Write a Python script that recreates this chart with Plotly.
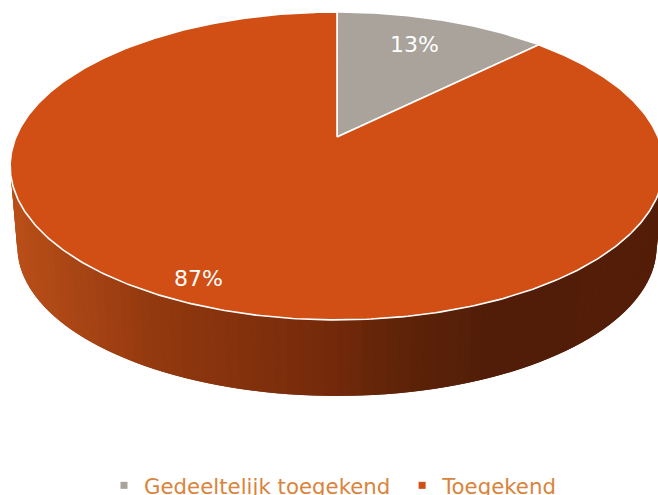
import math
import plotly.graph_objects as go

LABELS = ["Gedeeltelijk toegekend", "Toegekend"]
VALUES = [12.6, 87.4]
TEXTS = ["13%", "87%"]
COLORS = ["#A9A39B", "#D14F15"]
TEXT_POS = [(414, 44), (198, 278)]

# gradient of the side wall, by pixel x
WALL_STOPS = [(19, "#B84E18"), (150, "#93390F"), (330, "#73290A"), (390, "#5F2408"), (480, "#521D08"), (658, "#531D08")]

W, H = 658, 495
CX, APEX_Y = 337, 137
TOP = dict(kx=321, ky=148.5, c=0.188, y0=APEX_Y)
BASE = dict(kx=314, ky=144, c=0.188, y0=218.6)


def project(angle, disc, r=1.0):
    # clockwise from 12 o'clock, with perspective on the disc
    u, v = r * math.sin(angle), r * math.cos(angle)
    d = 1 + disc["c"] * v
    return CX + disc["kx"] * u / d, disc["y0"] - disc["ky"] * v / d


def wall_color(x):
    for (x0, c0), (x1, c1) in zip(WALL_STOPS, WALL_STOPS[1:]):
        if x <= x1:
            t = max(0, (x - x0) / (x1 - x0))
            a = [int(c0[i:i + 2], 16) for i in (1, 3, 5)]
            b = [int(c1[i:i + 2], 16) for i in (1, 3, 5)]
            return "rgb(%d,%d,%d)" % tuple(round(p + (q - p) * t) for p, q in zip(a, b))
    return WALL_STOPS[-1][1]


fig = go.Figure()

total = sum(VALUES)

# side wall: overlapping strips around the front of the big slice
n_strips = 120
a0, a1 = math.radians(70), math.radians(290)
for i in range(n_strips):
    s = a0 + (a1 - a0) * i / n_strips
    e = a0 + (a1 - a0) * (i + 2) / n_strips
    p = [project(s, TOP), project(e, TOP), project(e, BASE), project(s, BASE)]
    mid_x = (p[0][0] + p[1][0] + p[2][0] + p[3][0]) / 4
    fig.add_trace(go.Scatter(
        x=[q[0] for q in p] + [p[0][0]], y=[q[1] for q in p] + [p[0][1]],
        mode="lines", fill="toself", fillcolor=wall_color(mid_x), line=dict(width=0),
        hoverinfo="skip", showlegend=False,
    ))

# top surface
frac = 0
for label, value, color in zip(LABELS, VALUES, COLORS):
    s = 2 * math.pi * frac
    frac += value / total
    e = 2 * math.pi * frac
    steps = max(int(value * 6), 30)
    pts = [project(s + (e - s) * j / steps, TOP) for j in range(steps + 1)]
    apex = project(0, TOP, 0)
    xs = [apex[0]] + [q[0] for q in pts] + [apex[0]]
    ys = [apex[1]] + [q[1] for q in pts] + [apex[1]]
    fig.add_trace(go.Scatter(
        x=xs, y=ys, mode="lines", fill="toself", fillcolor=color,
        line=dict(color="white", width=1.6), name=label, hoverinfo="name", showlegend=False,
    ))

# legend entries, the nbsp pushes the second entry out to its place
for label, color in zip(LABELS, COLORS):
    fig.add_trace(go.Scatter(
        x=[None], y=[None], mode="markers", name=label + "\u00a0",
        marker=dict(symbol="square", size=7, color=color),
    ))

for (tx, ty), text in zip(TEXT_POS, TEXTS):
    fig.add_annotation(x=tx, y=ty, text=text, showarrow=False, font=dict(color="white", size=22))

fig.update_layout(
    width=W, height=H,
    margin=dict(l=0, r=0, t=0, b=0, autoexpand=False),
    paper_bgcolor="white", plot_bgcolor="white",
    font=dict(family="DejaVu Sans"),
    showlegend=True,
    legend=dict(
        orientation="h", x=104 / W, xanchor="left",
        y=1 - 465 / H, yanchor="top",
        font=dict(size=21.3, color="#D9843C"), bgcolor="rgba(0,0,0,0)",
        itemwidth=30, traceorder="normal",
    ),
    xaxis=dict(range=[0, W], visible=False, fixedrange=True),
    yaxis=dict(range=[H, 0], visible=False, fixedrange=True),
)

fig.write_html("out.html", config={"displayModeBar": False}, post_script="document.body.style.margin = '0';")
